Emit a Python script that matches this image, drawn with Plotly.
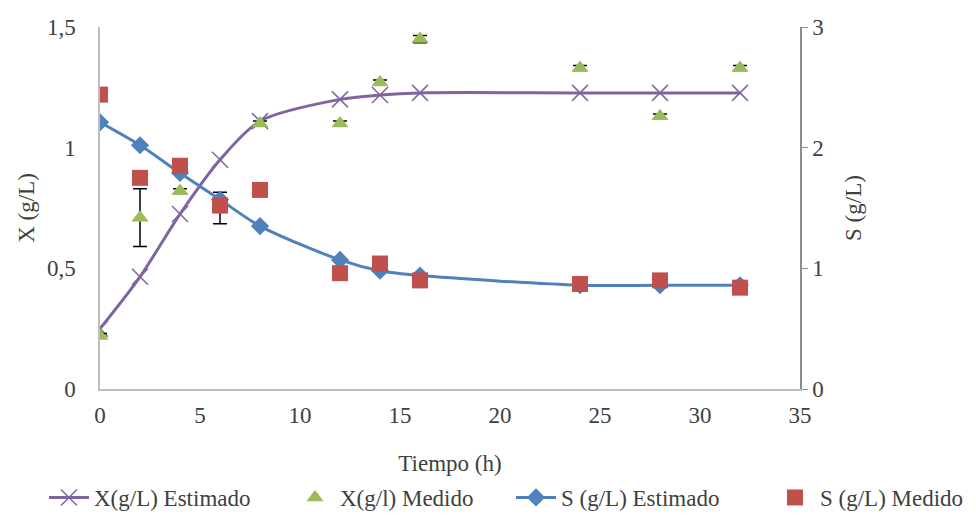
import plotly.graph_objects as go

# Data
t_est = [0, 2, 4, 6, 8, 12, 14, 16, 24, 28, 32]
x_est = [0.25, 0.465, 0.725, 0.95, 1.11, 1.20, 1.218, 1.227, 1.227, 1.227, 1.227]
s_est = [2.21, 2.02, 1.79, 1.57, 1.35, 1.07, 0.98, 0.94, 0.86, 0.86, 0.86]

t_med = [0, 2, 4, 6, 8, 12, 14, 16, 24, 28, 32]
x_med = [0.22, 0.71, 0.82, 0.75, 1.10, 1.10, 1.27, 1.45, 1.33, 1.13, 1.33]
x_err = [0.01, 0.12, 0.01, 0.065, 0.01, 0.01, 0.01, 0.015, 0.01, 0.01, 0.01]
s_med = [2.44, 1.75, 1.85, 1.52, 1.65, 0.96, 1.04, 0.90, 0.87, 0.90, 0.84]

x_ticks = [0, 5, 10, 15, 20, 25, 30, 35]
yl_ticks = [0, 0.5, 1, 1.5]
yr_ticks = [0, 1, 2, 3]

FONT = "Liberation Serif"
TXT = "#404040"
PURPLE = "#8064A2"
GREEN = "#9BBB59"
BLUE = "#4F81BD"
RED = "#C0504D"
TICKFONT = dict(family=FONT, size=23, color=TXT)
TITLEFONT = dict(family=FONT, size=23, color=TXT)
LEGFONT = dict(family=FONT, size=23, color=TXT)

W, H = 968, 511  # page body has an 8px margin

fig = go.Figure()
fig.add_trace(go.Scatter(
    x=t_est, y=x_est, name="X(g/L) Estimado", mode="lines+markers",
    line=dict(color=PURPLE, width=3, shape="spline", smoothing=0.8),
    marker=dict(symbol="x-thin", size=16, line=dict(color=PURPLE, width=1.5)),
    yaxis="y", legend="legend"))
fig.add_trace(go.Scatter(
    x=t_med, y=x_med, name="X(g/l) Medido", mode="markers",
    marker=dict(symbol="triangle-up", size=15, color=GREEN),
    error_y=dict(type="data", array=x_err, color="black", thickness=1.5, width=7),
    yaxis="y", legend="legend2"))
fig.add_trace(go.Scatter(
    x=t_est, y=s_est, name="S (g/L) Estimado", mode="lines+markers",
    line=dict(color=BLUE, width=3, shape="spline", smoothing=0.8),
    marker=dict(symbol="diamond", size=14, color=BLUE),
    yaxis="y2", legend="legend3"))
fig.add_trace(go.Scatter(
    x=t_med, y=s_med, name="S (g/L) Medido", mode="markers",
    marker=dict(symbol="square", size=16, color=RED),
    yaxis="y2", legend="legend4"))


def leg(xpx):
    return dict(orientation="h", xref="container", x=xpx / W, xanchor="left",
                yref="container", y=0.0, yanchor="bottom",
                font=LEGFONT, itemwidth=40, bgcolor="rgba(0,0,0,0)")


fig.update_layout(
    width=W, height=H,
    margin=dict(l=92, r=176, t=19, b=130),
    paper_bgcolor="white", plot_bgcolor="white",
    font=dict(family=FONT, size=23, color=TXT),
    separators=", ",
    showlegend=True,
    legend=leg(36), legend2=leg(282), legend3=leg(503), legend4=leg(762),
    xaxis=dict(range=[0, 35], tickvals=x_ticks, showgrid=False, zeroline=False,
               showline=True, linecolor="#BFBFBF", linewidth=1.5, ticks="",
               automargin=False, tickfont=TICKFONT, ticklabelstandoff=5,
               title=dict(text="Tiempo (h)", standoff=35, font=TITLEFONT)),
    yaxis=dict(range=[0, 1.5], tickvals=yl_ticks, showgrid=False, zeroline=False,
               showline=True, linecolor="#BFBFBF", linewidth=1.5, ticks="",
               automargin=False, tickfont=TICKFONT, ticklabelstandoff=18,
               title=dict(text="X (g/L)", standoff=6, font=TITLEFONT)),
    yaxis2=dict(range=[0, 3], tickvals=yr_ticks, overlaying="y", side="right",
                showgrid=False, zeroline=False, showline=True,
                linecolor="#8C8C8C", linewidth=1.5, ticks="outside",
                ticklen=6, tickcolor="#8C8C8C", automargin=False,
                tickfont=TICKFONT,
                title=dict(text="S (g/L)", standoff=22, font=TITLEFONT)),
)

fig.write_html("out.html")
